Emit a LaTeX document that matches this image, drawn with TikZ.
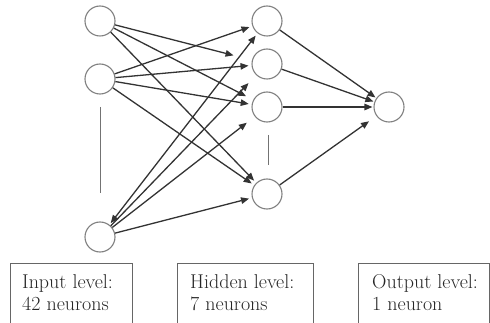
\documentclass[tikz,border=0pt]{standalone}
\usetikzlibrary{arrows.meta}
\begin{document}
\begin{tikzpicture}[x=1pt,y=-1pt,
  neuron/.style={draw=black!50,line width=1.1pt,circle,minimum size=30pt,inner sep=0pt},
  conn/.style={draw=black!80,line width=1.3pt,-{Triangle[length=8pt,width=6.5pt]},shorten >=3pt},
  bar/.style={draw=black!55,line width=1pt},
  lbox/.style={draw=black!60,line width=1pt},
  ltext/.style={anchor=base west,inner sep=0pt,align=left,text=black!85,font=\rmfamily\fontsize{20}{21.6}\selectfont}]
\useasboundingbox (0,0) rectangle (490,323);
% nodes
\node[neuron] (i1) at (100,21) {};
\node[neuron] (i2) at (100,79) {};
\node[neuron] (i3) at (100,237) {};
\node[neuron] (h1) at (267,21) {};
\node[neuron] (h2) at (267,64) {};
\node[neuron] (h3) at (267,107) {};
\node[neuron] (h4) at (267,194) {};
\node[neuron] (o1) at (389,107) {};
% ellipsis bars
\draw[bar] (100,107) -- (100,193);
\draw[bar] (268,135) -- (268,165);
% input 1
\draw[conn,shorten >=19pt] (i1) -- (h2);
\draw[conn,shorten >=8pt] (i1) -- (h3);
\draw[conn] (i1) -- (h4);
% input 2
\draw[conn] (i2) -- (h1);
\draw[conn] (i2) -- (h2);
\draw[conn] (i2) -- (h3);
\draw[conn] (i2) -- (h4);
% input 3
\draw[conn,{Triangle[length=8pt,width=6.5pt]}-{Triangle[length=8pt,width=6.5pt]},shorten <=2pt] (i3) -- (h1);
\draw[conn,shorten >=11pt] (i3) -- (h2);
\draw[conn,shorten >=10pt] (i3) -- (h3);
\draw[conn] (i3) -- (h4);
% hidden to output
\draw[conn,shorten >=1pt] (h1) -- (o1);
\draw[conn,shorten >=1pt] (h2) -- (o1);
\draw[conn,shorten >=1pt] (h3) -- (o1);
\draw[conn,shorten >=9pt] (h4) -- (o1);
% label boxes
\draw[lbox] (10,323.5) -- (10,263) -- (132,263) -- (132,323.5);
\draw[lbox] (177,323.5) -- (177,263) -- (313,263) -- (313,323.5);
\draw[lbox] (358,323.5) -- (358,263) -- (489,263) -- (489,323.5);
\node[ltext] (t1) at (22,310.3) {Input level:\\42 neurons};
\node[ltext] (t2) at (190,310.3) {Hidden level:\\7 neurons};
\node[ltext] (t3) at (372,310.3) {Output level:\\1 neuron};
\end{tikzpicture}
\end{document}
